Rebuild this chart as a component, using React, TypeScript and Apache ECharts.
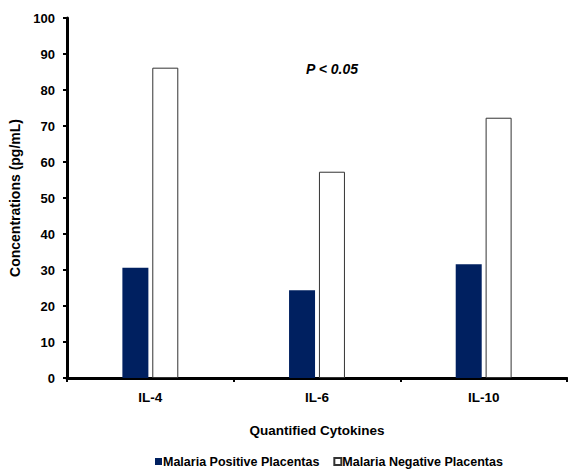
import React, { useEffect, useRef } from "react";
import * as echarts from "echarts";

const categories = ["IL-4", "IL-6", "IL-10"];
const positiveValues = [30.6, 24.4, 31.6];
const negativeValues = [86.2, 57.3, 72.3];
const seriesNames = ["Malaria Positive Placentas", "Malaria Negative Placentas"];
const annotation = "P < 0.05";

export default function App() {
  const ref = useRef<HTMLDivElement>(null);
  useEffect(() => {
    document.body.style.margin = "0";
    const chart = echarts.init(ref.current!, null, { renderer: "svg" });
    const font = "'Liberation Sans', Arial, sans-serif";
    chart.setOption({
      animation: false,
      backgroundColor: "#ffffff",
      textStyle: { fontFamily: font },
      grid: { left: 67, right: 1, top: 18, bottom: 94 },
      legend: {
        top: 455,
        left: 155,
        padding: 0,
        itemWidth: 7,
        itemHeight: 7,
        itemGap: 14,
        icon: "rect",
        textStyle: { fontFamily: font, fontWeight: "bold", fontSize: 12.5, color: "#000", padding: [0, 0, 0, -4] },
        data: seriesNames,
      },
      xAxis: {
        type: "category",
        data: categories,
        name: "Quantified Cytokines",
        nameLocation: "middle",
        nameGap: 45,
        nameTextStyle: { fontFamily: font, fontWeight: "bold", fontSize: 13.5, color: "#000" },
        axisLine: { lineStyle: { color: "#000", width: 3 } },
        axisTick: { show: true, length: 4, lineStyle: { color: "#000", width: 2 } },
        axisLabel: { margin: 12, fontFamily: font, fontWeight: "bold", fontSize: 13.5, color: "#000" },
      },
      yAxis: {
        type: "value",
        min: 0,
        max: 100,
        interval: 10,
        name: "Concentrations (pg/mL)",
        nameLocation: "middle",
        nameGap: 42,
        nameTextStyle: { fontFamily: font, fontWeight: "bold", fontSize: 14, color: "#000" },
        axisLine: { show: true, lineStyle: { color: "#000", width: 3 } },
        axisTick: { show: true, length: 4, lineStyle: { color: "#000", width: 2 } },
        axisLabel: { margin: 12, fontFamily: font, fontWeight: "bold", fontSize: 13, color: "#000" },
        splitLine: { show: false },
      },
      graphic: [
        {
          type: "text",
          left: 306,
          top: 62,
          style: {
            text: annotation,
            font: "italic bold 14px 'Liberation Sans', Arial, sans-serif",
            fill: "#000",
          },
        },
      ],
      series: [
        {
          name: seriesNames[0],
          type: "bar",
          data: positiveValues,
          barWidth: 26,
          barGap: "15%",
          itemStyle: { color: "#002060", borderColor: "#002060", borderWidth: 0 },
        },
        {
          name: seriesNames[1],
          type: "bar",
          data: negativeValues,
          barWidth: 26,
          barGap: "15%",
          itemStyle: { color: "#ffffff", borderColor: "#333333", borderWidth: 1 },
        },
      ],
    });
    return () => chart.dispose();
  }, []);
  return <div ref={ref} style={{ width: 568, height: 472 }} />;
}
